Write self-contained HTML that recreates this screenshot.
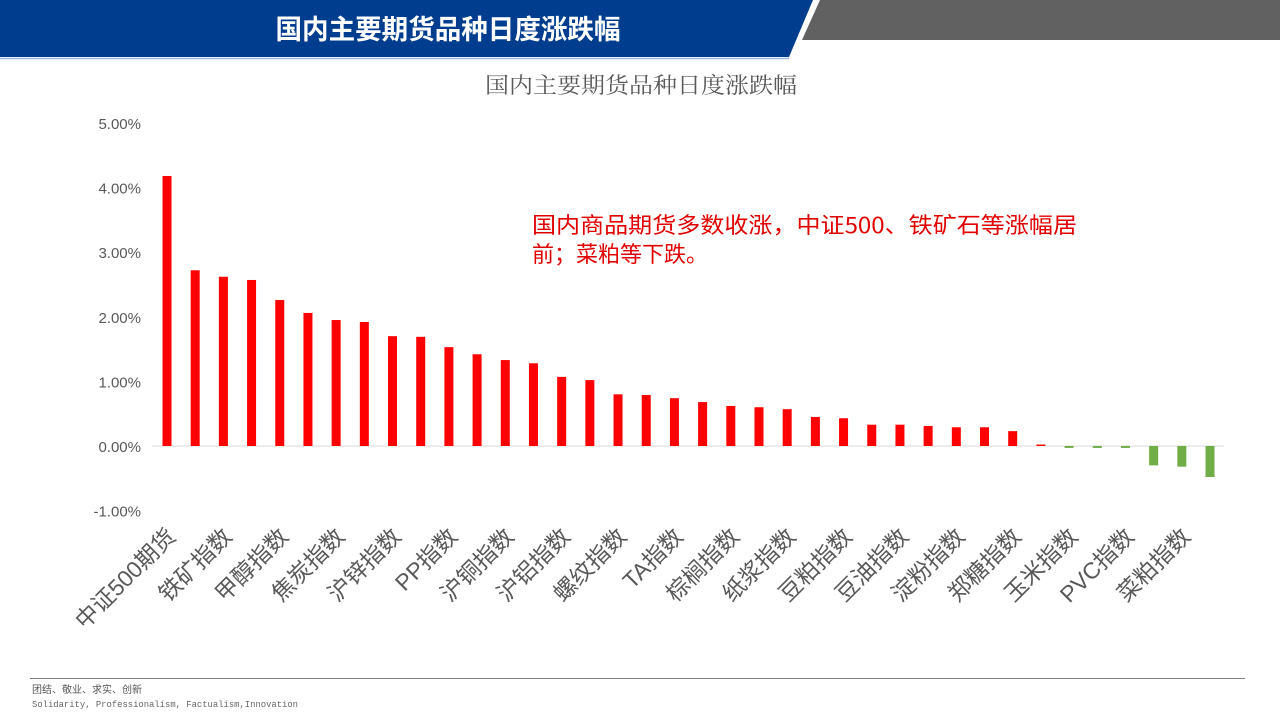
<!DOCTYPE html>
<html><head><meta charset="utf-8"><style>
body{margin:0;width:1280px;height:720px;overflow:hidden;background:#fff;font-family:"Liberation Sans","Noto Sans CJK SC",sans-serif}
</style></head><body>
<svg id="s" width="1280" height="720" xmlns="http://www.w3.org/2000/svg" style="position:absolute;left:0;top:0">
<polygon points="0,0 813,0 789,57 0,57" fill="#003d8f"/>
<line x1="0" y1="58.5" x2="789" y2="58.5" stroke="#9db8e0" stroke-width="1.5"/>
<polygon points="820,0 1280,0 1280,40 802,40" fill="#616161"/>
<text x="448" y="39" text-anchor="middle" fill="#fff" font-size="27" font-weight="bold" font-family="'Noto Sans CJK SC',sans-serif" textLength="345" lengthAdjust="spacingAndGlyphs">国内主要期货品种日度涨跌幅</text>
<text x="641" y="93" text-anchor="middle" fill="#595959" font-size="22" font-family="'Noto Serif CJK SC',serif" textLength="312" lengthAdjust="spacingAndGlyphs">国内主要期货品种日度涨跌幅</text>
<text x="532" y="233" fill="#e00000" font-size="22" font-family="'Noto Sans CJK SC',sans-serif" textLength="545" lengthAdjust="spacingAndGlyphs">国内商品期货多数收涨，中证500、铁矿石等涨幅居</text>
<text x="532" y="262" fill="#e00000" font-size="22" font-family="'Noto Sans CJK SC',sans-serif">前；菜粕等下跌。</text>
<line x1="152" y1="446" x2="1224" y2="446" stroke="#d9d9d9" stroke-width="1"/>
<line x1="30" y1="678.5" x2="1245" y2="678.5" stroke="#808080" stroke-width="1"/>
<text x="32" y="693" fill="#555" font-size="10" font-family="'Noto Sans CJK SC',sans-serif">团结、敬业、求实、创新</text>
<text x="32" y="707" fill="#666" font-size="9" font-family="'Liberation Mono',monospace" textLength="266" lengthAdjust="spacingAndGlyphs">Solidarity, Professionalism, Factualism,Innovation</text>
<g id="g"></g>
</svg>
<script>
var v=[4.18,2.72,2.62,2.57,2.26,2.06,1.95,1.92,1.70,1.69,1.53,1.42,1.33,1.28,1.07,1.02,0.80,0.79,0.74,0.68,0.62,0.60,0.57,0.45,0.43,0.33,0.33,0.31,0.29,0.29,0.23,0.02,-0.03,-0.03,-0.03,-0.30,-0.32,-0.48];
var L=["中证500期货","铁矿指数","甲醇指数","焦炭指数","沪锌指数","PP指数","沪铜指数","沪铝指数","螺纹指数","TA指数","棕榈指数","纸浆指数","豆粕指数","豆油指数","淀粉指数","郑糖指数","玉米指数","PVC指数","菜粕指数"];
var h='',z=446,k=64.6;
["5.00%","4.00%","3.00%","2.00%","1.00%","0.00%","-1.00%"].forEach(function(t,i){h+='<text x="141" y="'+(129+i*64.6)+'" text-anchor="end" fill="#595959" font-size="15">'+t+'</text>';});
v.forEach(function(d,i){var x=167+i*28.19,hh=Math.abs(d)*k;if(hh<1.5)hh=1.5;var y=d>=0?z-hh:z;
h+='<rect x="'+(x-4.5)+'" y="'+y+'" width="9" height="'+hh+'" fill="'+(d>=0?'#ff0000':'#70ad47')+'"/>';
if(i%2==0){h+='<text transform="translate('+(x+10)+',538) rotate(-45)" text-anchor="end" fill="#595959" font-size="23">'+L[i/2]+'</text>';}});
document.getElementById('g').innerHTML=h;
</script>
</body></html>
